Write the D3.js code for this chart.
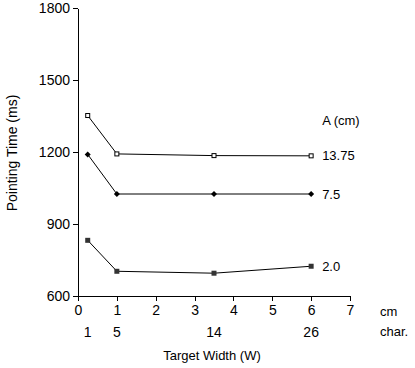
<!DOCTYPE html>
<html>
<head>
<meta charset="utf-8"/>
<title>Pointing Time</title>
<script src="https://cdn.jsdelivr.net/npm/d3@7"></script>
<style>
html, body {
    margin: 0;
    padding: 0;
    background: #fff;
}
svg text {
    font-family: "Liberation Sans", Arial, sans-serif;
    fill: #000;
}
</style>
</head>
<body>
<svg id="chart"></svg>
<script>

// Target widths (cm) and the matching width in characters.
var widthsCm = [0.25, 1, 3.5, 6];
var charLabels = ["1", "5", "14", "26"];

// Amplitudes (cm) and pointing times (ms) for each one.
var amplitudes = ["13.75", "7.5", "2.0"];
var time1375 = [1352, 1192, 1185, 1184];
var time75 = [1190, 1025, 1025, 1025];
var time20 = [832, 703, 695, 724];

var yTicks = [600, 900, 1200, 1500, 1800];
var xTicks = [0, 1, 2, 3, 4, 5, 6, 7];

const W = 415, H = 368;
const x = d3.scaleLinear().domain([0, 7]).range([78, 350]);
const y = d3.scaleLinear().domain([600, 1800]).range([296, 8]);

var svg = d3.select("#chart").attr("width", W).attr("height", H);

// Axes
var yAxis = svg.append("g")
    .attr("transform", "translate(" + x(0) + ",0)")
    .call(d3.axisLeft(y).tickValues(yTicks).tickSizeInner(5).tickSizeOuter(0).tickPadding(3).tickFormat(d3.format("d")));
var xAxis = svg.append("g")
    .attr("transform", "translate(0," + y(600) + ")")
    .call(d3.axisBottom(x).tickValues(xTicks).tickSizeInner(5).tickSizeOuter(0).tickPadding(4).tickFormat(d3.format("d")));
[yAxis, xAxis].forEach(function(a) {
    a.selectAll("path, line").attr("stroke", "#000").attr("stroke-width", 1).attr("shape-rendering", "crispEdges");
    a.selectAll("text").style("font-size", "14px").style("font-family", "'Liberation Sans', Arial, sans-serif").attr("fill", "#000");
});

// Second row of x labels, in characters
svg.append("g").selectAll("text")
    .data(widthsCm)
    .enter().append("text")
    .attr("x", d => x(d))
    .attr("y", 337)
    .attr("text-anchor", "middle")
    .style("font-size", "14px")
    .text((d, i) => charLabels[i]);

svg.append("text").attr("x", 380).attr("y", 316).style("font-size", "13px").text("cm");
svg.append("text").attr("x", 380).attr("y", 336).style("font-size", "13px").text("char.");

// Axis titles
svg.append("text")
    .attr("x", 212).attr("y", 360)
    .attr("text-anchor", "middle")
    .style("font-size", "13px")
    .text("Target Width (W)");
svg.append("text")
    .attr("transform", "translate(17," + (y(1200) + 1) + ") rotate(-90)")
    .attr("text-anchor", "middle")
    .style("font-size", "14px")
    .text("Pointing Time (ms)");

// Series
var series = [
    {name: amplitudes[0], values: time1375, marker: "open"},
    {name: amplitudes[1], values: time75, marker: "diamond"},
    {name: amplitudes[2], values: time20, marker: "filled"}
];

var line = d3.line()
    .x((d, i) => x(widthsCm[i]))
    .y(d => y(d));

series.forEach(function(s) {
    svg.append("path")
        .attr("d", line(s.values))
        .attr("fill", "none")
        .attr("stroke", "#000")
        .attr("stroke-width", 1);

    var g = svg.append("g");
    s.values.forEach(function(v, i) {
        var cx = x(widthsCm[i]), cy = y(v);
        if (s.marker == "open") {
            g.append("rect").attr("x", cx - 2).attr("y", cy - 2).attr("width", 4).attr("height", 4)
                .attr("fill", "#fff").attr("stroke", "#000").attr("stroke-width", 1);
        } else if (s.marker == "filled") {
            g.append("rect").attr("x", cx - 2.5).attr("y", cy - 2.5).attr("width", 5).attr("height", 5)
                .attr("fill", "#333");
        } else {
            g.append("path").attr("d", "M" + cx + "," + (cy - 3) + "L" + (cx + 3) + "," + cy + "L" + cx + "," + (cy + 3) + "L" + (cx - 3) + "," + cy + "Z")
                .attr("fill", "#000");
        }
    });

    svg.append("text")
        .attr("x", x(6) + 11)
        .attr("y", y(s.values[s.values.length - 1]))
        .attr("dy", "0.35em")
        .style("font-size", "13px")
        .text(s.name);
});

svg.append("text")
    .attr("x", x(6) + 11)
    .attr("y", 120)
    .attr("dy", "0.35em")
    .style("font-size", "13px")
    .text("A (cm)");

</script>
</body>
</html>
